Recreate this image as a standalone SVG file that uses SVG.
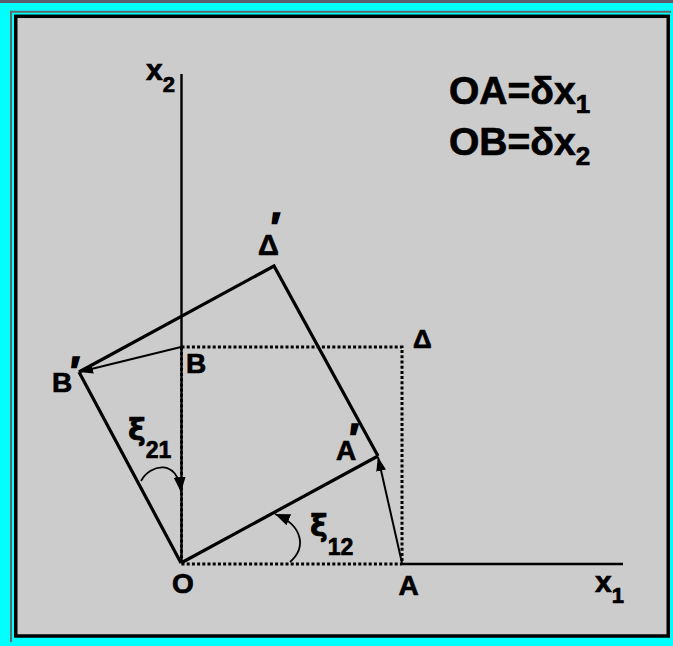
<svg xmlns="http://www.w3.org/2000/svg" width="673" height="646" viewBox="0 0 673 646">
<defs>
<style>
.t{font-family:"Liberation Sans",Arial,sans-serif;font-weight:bold;fill:#000;stroke:#000;stroke-width:0.7}
.g{font-family:"DejaVu Sans","Liberation Sans",sans-serif;font-weight:bold}
.p{font-family:"Liberation Sans",Arial,sans-serif;font-weight:bold;stroke-width:1.6}
.thick{stroke:#000;stroke-width:3.2;fill:none;stroke-linejoin:miter}
.ax{stroke:#000;stroke-width:2.4;fill:none}
.dot{stroke:#000;stroke-width:3;stroke-dasharray:3 2.2;fill:none}
.thin{stroke:#000;stroke-width:2;fill:none}
</style>
<marker id="arr" viewBox="0 0 14 10" refX="14" refY="5" markerUnits="userSpaceOnUse" markerWidth="14" markerHeight="10" orient="auto">
<path d="M0,0 L14,5 L0,10 z" fill="#000"/>
</marker>
<marker id="arc" viewBox="0 0 15 12" refX="15" refY="6" markerUnits="userSpaceOnUse" markerWidth="15" markerHeight="12" orient="auto">
<path d="M0,0 L15,6 L0,12 z" fill="#000"/>
</marker>
</defs>
<rect width="673" height="646" fill="#00FFFF"/>
<rect x="0" y="0" width="673" height="3" fill="#5a5e6a"/>
<polyline points="11,642 11,11.8 671,11.8" fill="none" stroke="#666" stroke-width="2"/>
<rect x="15.75" y="16.3" width="652.5" height="619.7" fill="#CCCCCC" stroke="#000" stroke-width="3.5"/>

<g id="connectors">
<line class="ax" x1="181.5" y1="74" x2="181.5" y2="563"/>
<line class="ax" x1="402" y1="564" x2="623" y2="564"/>
<path class="dot" d="M181.5,347 H402 V563 M181.5,564 H402 M181.5,347 V563"/>
<path class="thick" d="M181,563 L378,456 M79,372 L274,266 L378,456 M181,563 L79,372"/>
<line class="thin" x1="402" y1="563" x2="378" y2="457" marker-end="url(#arr)"/>
<line class="thin" x1="181" y1="347" x2="79" y2="372" marker-end="url(#arr)"/>
<path class="thin" d="M141,481 C150,464 178,458 181,492" marker-end="url(#arc)" style="stroke-width:1.8"/>
<path class="thin" d="M290,562 C306,548 304,526 275,514" marker-end="url(#arc)" style="stroke-width:1.8"/>
</g>

<g id="label-x2"><text class="t" x="146" y="80" font-size="30">x<tspan font-size="22" dy="12">2</tspan></text></g>
<g id="label-x1"><text class="t" x="595" y="592" font-size="30">x<tspan font-size="22" dy="11">1</tspan></text></g>
<g id="label-OA"><text class="t" x="449" y="104" font-size="39">OA=δx<tspan font-size="26" dy="9">1</tspan></text></g>
<g id="label-OB"><text class="t" x="449" y="155" font-size="39">OB=δx<tspan font-size="26" dy="10">2</tspan></text></g>
<g id="node-O"><text class="t" x="183" y="593" font-size="28" text-anchor="middle">O</text></g>
<g id="node-A"><text class="t" x="408.5" y="595" font-size="28" text-anchor="middle">A</text></g>
<g id="node-B"><text class="t" x="186" y="373" font-size="28">B</text></g>
<g id="node-Delta"><text class="t" x="413" y="348" font-size="26">Δ</text></g>
<g id="node-Bp"><text class="t" x="52" y="392" font-size="28">B<tspan class="p" font-size="40" dx="-2" dy="-7">′</tspan></text></g>
<g id="node-Deltap"><text class="t" x="258" y="255" font-size="29">Δ<tspan class="p" font-size="40" dx="-8" dy="-14">′</tspan></text></g>
<g id="node-Ap"><text class="t" x="336" y="460" font-size="28">A<tspan class="p" font-size="40" dx="-7" dy="-8">′</tspan></text></g>
<g id="label-xi21"><text class="t" x="128" y="440" font-size="30"><tspan class="g">ξ</tspan><tspan font-size="23" dx="0" dy="18">21</tspan></text></g>
<g id="label-xi12"><text class="t" x="310" y="536" font-size="30"><tspan class="g">ξ</tspan><tspan font-size="23" dx="0" dy="19">12</tspan></text></g>
</svg>
